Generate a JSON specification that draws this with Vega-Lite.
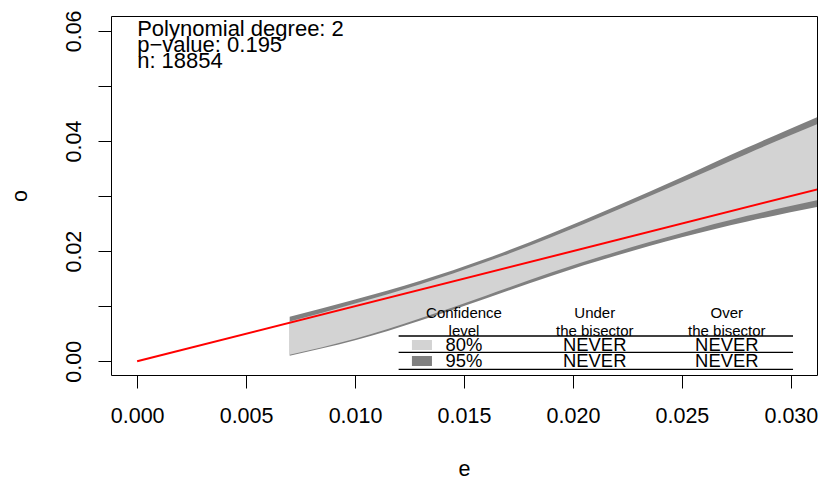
{
  "$schema": "https://vega.github.io/schema/vega-lite/v6.json",
  "width": 706,
  "height": 359,
  "autosize": {"type": "none"},
  "padding": {"left": 111, "top": 16, "right": 5, "bottom": 105},
  "background": "white",
  "config": {
    "font": "Liberation Sans",
    "view": {"stroke": "black", "strokeWidth": 1},
    "axis": {"grid": false, "domain": false, "tickColor": "black", "tickSize": 13, "tickWidth": 1, "labelColor": "black", "labelFont": "Liberation Sans", "labelFontSize": 21.5, "titleFont": "Liberation Sans", "titleFontSize": 21.5, "titleFontWeight": "normal", "titleColor": "black"}
  },
  "datasets": {
    "band": [
      {"e": 0.007, "lo": 0.0010, "hi": 0.0081, "level": "95%"},
      {"e": 0.010, "lo": 0.0038, "hi": 0.0112, "level": "95%"},
      {"e": 0.013, "lo": 0.0074, "hi": 0.0146, "level": "95%"},
      {"e": 0.016, "lo": 0.0114, "hi": 0.0186, "level": "95%"},
      {"e": 0.019, "lo": 0.0155, "hi": 0.0232, "level": "95%"},
      {"e": 0.022, "lo": 0.0192, "hi": 0.0282, "level": "95%"},
      {"e": 0.025, "lo": 0.0225, "hi": 0.0334, "level": "95%"},
      {"e": 0.028, "lo": 0.0254, "hi": 0.0388, "level": "95%"},
      {"e": 0.0313, "lo": 0.0281, "hi": 0.0445, "level": "95%"},
      {"e": 0.007, "lo": 0.0012, "hi": 0.0072, "level": "80%"},
      {"e": 0.010, "lo": 0.0041, "hi": 0.0105, "level": "80%"},
      {"e": 0.013, "lo": 0.0078, "hi": 0.0140, "level": "80%"},
      {"e": 0.016, "lo": 0.0119, "hi": 0.0180, "level": "80%"},
      {"e": 0.019, "lo": 0.0161, "hi": 0.0225, "level": "80%"},
      {"e": 0.022, "lo": 0.0199, "hi": 0.0274, "level": "80%"},
      {"e": 0.025, "lo": 0.0233, "hi": 0.0325, "level": "80%"},
      {"e": 0.028, "lo": 0.0264, "hi": 0.0377, "level": "80%"},
      {"e": 0.0313, "lo": 0.0293, "hi": 0.0432, "level": "80%"}
    ],
    "bisector": [
      {"e": 0, "o": 0},
      {"e": 0.0313, "o": 0.0313}
    ],
    "table": [
      {"level": "80%", "under": "NEVER", "over": "NEVER"},
      {"level": "95%", "under": "NEVER", "over": "NEVER"}
    ],
    "blank": [{}]
  },
  "layer": [
    {
      "data": {"name": "band"},
      "transform": [{"filter": "datum.level == '95%'"}],
      "mark": {"type": "area", "interpolate": "natural", "clip": true},
      "encoding": {
        "x": {"field": "e", "type": "quantitative", "scale": {"domain": [-0.0012, 0.0312], "nice": false, "zero": false},
          "axis": {"values": [0, 0.005, 0.01, 0.015, 0.02, 0.025, 0.03], "format": ".3f", "labelPadding": 17, "titlePadding": 32, "labelFlush": false, "labelOverlap": false}, "title": "e"},
        "y": {"field": "lo", "type": "quantitative", "scale": {"domain": [-0.0025, 0.0627], "nice": false, "zero": false},
          "axis": {"values": [0, 0.01, 0.02, 0.03, 0.04, 0.05, 0.06], "labelExpr": "indexof(['0.00','0.02','0.04','0.06'], format(datum.value, '.2f')) >= 0 ? format(datum.value, '.2f') : ''", "labelAngle": 270, "labelAlign": "center", "labelBaseline": "alphabetic", "labelPadding": 18, "titlePadding": 37, "titleBaseline": "alphabetic", "labelFlush": false, "labelOverlap": false}, "title": "o"},
        "y2": {"field": "hi"},
        "color": {"field": "level", "type": "nominal", "scale": {"domain": ["80%", "95%"], "range": ["#d3d3d3", "#808080"]}, "legend": null}
      }
    },
    {
      "data": {"name": "band"},
      "transform": [{"filter": "datum.level == '80%'"}],
      "mark": {"type": "area", "interpolate": "natural", "clip": true},
      "encoding": {
        "x": {"field": "e", "type": "quantitative"},
        "y": {"field": "lo", "type": "quantitative"},
        "y2": {"field": "hi"},
        "color": {"field": "level", "type": "nominal"}
      }
    },
    {
      "data": {"name": "bisector"},
      "mark": {"type": "line", "color": "#ff0000", "strokeWidth": 2, "clip": true},
      "encoding": {
        "x": {"field": "e", "type": "quantitative"},
        "y": {"field": "o", "type": "quantitative"}
      }
    },
    {
      "data": {"name": "blank"},
      "mark": {"type": "text", "align": "left", "baseline": "alphabetic", "fontSize": 22, "lineHeight": 16.3, "color": "black"},
      "encoding": {
        "x": {"datum": 0},
        "y": {"datum": 0.05912},
        "text": {"value": ["Polynomial degree: 2", "p\u2212value: 0.195", "n: 18854"]}
      }
    },
    {
      "data": {"name": "blank"},
      "mark": {"type": "rule", "color": "black", "strokeWidth": 1.3},
      "encoding": {"x": {"datum": 0.012}, "x2": {"datum": 0.0301}, "y": {"datum": 0.00458}}
    },
    {
      "data": {"name": "blank"},
      "mark": {"type": "rule", "color": "black", "strokeWidth": 1.3},
      "encoding": {"x": {"datum": 0.012}, "x2": {"datum": 0.0301}, "y": {"datum": 0.00162}}
    },
    {
      "data": {"name": "blank"},
      "mark": {"type": "rule", "color": "black", "strokeWidth": 1.3},
      "encoding": {"x": {"datum": 0.012}, "x2": {"datum": 0.0301}, "y": {"datum": -0.00147}}
    },
    {
      "data": {"name": "blank"},
      "mark": {"type": "text", "align": "center", "baseline": "alphabetic", "fontSize": 15, "lineHeight": 17.4, "color": "black"},
      "encoding": {"x": {"datum": 0.015}, "y": {"datum": 0.0078}, "text": {"value": ["Confidence", "level"]}}
    },
    {
      "data": {"name": "blank"},
      "mark": {"type": "text", "align": "center", "baseline": "alphabetic", "fontSize": 15, "lineHeight": 17.4, "color": "black"},
      "encoding": {"x": {"datum": 0.021}, "y": {"datum": 0.0078}, "text": {"value": ["Under", "the bisector"]}}
    },
    {
      "data": {"name": "blank"},
      "mark": {"type": "text", "align": "center", "baseline": "alphabetic", "fontSize": 15, "lineHeight": 17.4, "color": "black"},
      "encoding": {"x": {"datum": 0.02706}, "y": {"datum": 0.0078}, "text": {"value": ["Over", "the bisector"]}}
    },
    {
      "data": {"name": "table"},
      "transform": [{"filter": "datum.level == '80%'"}],
      "mark": {"type": "rect"},
      "encoding": {"x": {"datum": 0.01261}, "x2": {"datum": 0.01353}, "y": {"datum": 0.00386}, "y2": {"datum": 0.00204}, "color": {"field": "level", "type": "nominal"}}
    },
    {
      "data": {"name": "table"},
      "transform": [{"filter": "datum.level == '95%'"}],
      "mark": {"type": "rect"},
      "encoding": {"x": {"datum": 0.01261}, "x2": {"datum": 0.01353}, "y": {"datum": 0.00095}, "y2": {"datum": -0.00087}, "color": {"field": "level", "type": "nominal"}}
    },
    {
      "data": {"name": "table"},
      "transform": [{"filter": "datum.level == '80%'"}],
      "mark": {"type": "text", "align": "center", "baseline": "alphabetic", "fontSize": 18.4, "color": "black"},
      "encoding": {"x": {"datum": 0.015}, "y": {"datum": 0.00186}, "text": {"field": "level"}}
    },
    {
      "data": {"name": "table"},
      "transform": [{"filter": "datum.level == '80%'"}],
      "mark": {"type": "text", "align": "center", "baseline": "alphabetic", "fontSize": 18.4, "color": "black"},
      "encoding": {"x": {"datum": 0.021}, "y": {"datum": 0.00186}, "text": {"field": "under"}}
    },
    {
      "data": {"name": "table"},
      "transform": [{"filter": "datum.level == '80%'"}],
      "mark": {"type": "text", "align": "center", "baseline": "alphabetic", "fontSize": 18.4, "color": "black"},
      "encoding": {"x": {"datum": 0.02706}, "y": {"datum": 0.00186}, "text": {"field": "over"}}
    },
    {
      "data": {"name": "table"},
      "transform": [{"filter": "datum.level == '95%'"}],
      "mark": {"type": "text", "align": "center", "baseline": "alphabetic", "fontSize": 18.4, "color": "black"},
      "encoding": {"x": {"datum": 0.015}, "y": {"datum": -0.0011}, "text": {"field": "level"}}
    },
    {
      "data": {"name": "table"},
      "transform": [{"filter": "datum.level == '95%'"}],
      "mark": {"type": "text", "align": "center", "baseline": "alphabetic", "fontSize": 18.4, "color": "black"},
      "encoding": {"x": {"datum": 0.021}, "y": {"datum": -0.0011}, "text": {"field": "under"}}
    },
    {
      "data": {"name": "table"},
      "transform": [{"filter": "datum.level == '95%'"}],
      "mark": {"type": "text", "align": "center", "baseline": "alphabetic", "fontSize": 18.4, "color": "black"},
      "encoding": {"x": {"datum": 0.02706}, "y": {"datum": -0.0011}, "text": {"field": "over"}}
    }
  ]
}
